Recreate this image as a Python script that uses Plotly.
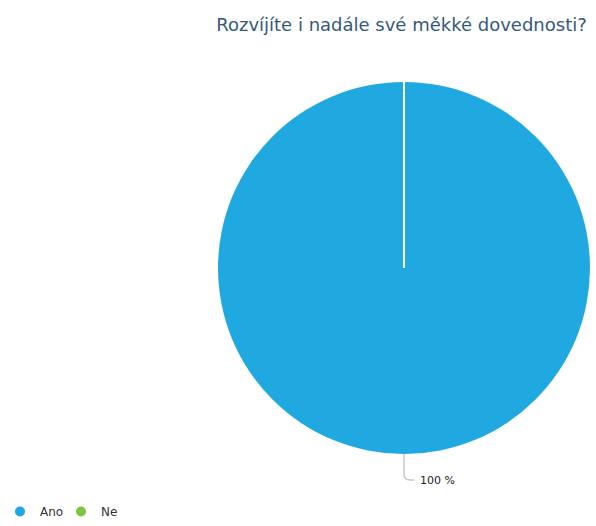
import plotly.graph_objects as go

categories = ["Ano", "Ne"]
values = [100, 0]
colors = ["#20A9E1", "#7DC540"]
title_text = "Rozvíjíte i nadále své měkké dovednosti?"
label_text = "100 %"

W, H = 596, 526
fig = go.Figure()

dom_x = [218 / W, 590 / W]
dom_y = [72 / H, 444 / H]

fig.add_trace(go.Pie(
    labels=categories, values=values,
    marker=dict(colors=colors, line=dict(color="white", width=0)),
    sort=False, direction="clockwise", rotation=0,
    textinfo="none", hoverinfo="label+percent",
    showlegend=False,
    domain=dict(x=dom_x, y=dom_y),
))

for c, col in zip(categories, colors):
    fig.add_trace(go.Scatter(
        x=[None], y=[None], mode="markers", name=c,
        marker=dict(symbol="circle", size=10, color=col),
        showlegend=True,
    ))

cx = (dom_x[0] + dom_x[1]) / 2
cy = (dom_y[0] + dom_y[1]) / 2
# boundary between slices (zero-size slice "Ne" at 12 o'clock)
fig.add_shape(type="line", xref="paper", yref="paper",
              x0=cx, y0=cy, x1=cx, y1=dom_y[1],
              line=dict(color="white", width=2))
# leader line for label
fig.add_shape(type="path", xref="paper", yref="paper",
              path=f"M {cx} {dom_y[0]} L {cx} {dom_y[0]-20/H} Q {cx} {dom_y[0]-26/H} {cx+6/W} {dom_y[0]-26/H} L {cx+10/W} {dom_y[0]-26/H}",
              line=dict(color="#C8C8C8", width=1.5))

fig.add_annotation(text=label_text, xref="paper", yref="paper",
                   x=cx + 14 / W, y=dom_y[0] - 26 / H, xanchor="left", yanchor="middle",
                   showarrow=False, font=dict(family="DejaVu Sans", size=11, color="#222222"))

fig.update_layout(
    width=W, height=H,
    margin=dict(l=0, r=0, t=0, b=0),
    paper_bgcolor="white", plot_bgcolor="white",
    title=dict(text=title_text, x=401.5 / W, xanchor="center", y=1 - 25 / H, yanchor="middle",
               font=dict(family="DejaVu Sans", size=18, color="#34597D")),
    xaxis=dict(visible=False, domain=[0, 0.01]), yaxis=dict(visible=False, domain=[0, 0.01]),
    legend=dict(orientation="h", x=0, xanchor="left", y=0, yanchor="bottom",
                font=dict(family="DejaVu Sans", size=12, color="#333333"),
                itemwidth=30, entrywidth=16, entrywidthmode="pixels",
                bgcolor="rgba(0,0,0,0)", tracegroupgap=0),
    showlegend=True,
)

fig.write_html("out.html")
